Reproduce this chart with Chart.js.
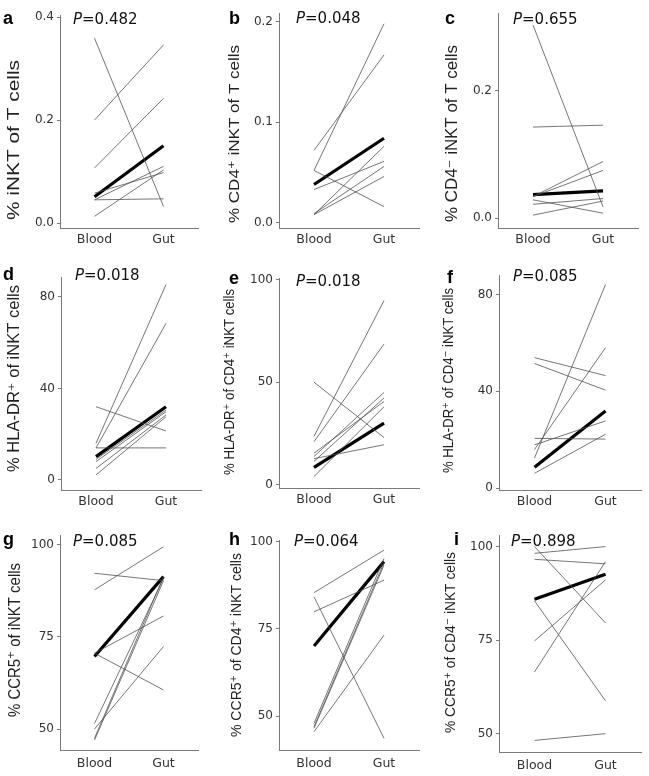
<!DOCTYPE html>
<html>
<head>
<meta charset="utf-8">
<script src="https://cdn.jsdelivr.net/npm/chart.js@4.4.1/dist/chart.umd.min.js"></script>
<style>
body { margin: 0; background: #fff; }
#fig { position: relative; width: 649px; height: 776px; }
canvas { position: absolute; }
</style>
</head>
<body>
<div id="fig"></div>
<script>
// Categorias do eixo x
const categories = ['Blood', 'Gut'];

// Painel a - % iNKT of T cells
const aBlood = [0.359, 0.200, 0.107, 0.045, 0.058, 0.045, 0.013];
const aGut   = [0.032, 0.346, 0.242, 0.110, 0.098, 0.047, 0.103];
const aMean  = [0.051, 0.150];
const aTicks = [0, 0.2, 0.4];
const aTickLabels = ['0.0', '0.2', '0.4'];

// Painel b - % CD4+ iNKT of T cells
const bBlood = [0.072, 0.052, 0.052, 0.033, 0.008, 0.009, 0.008];
const bGut   = [0.167, 0.198, 0.016, 0.061, 0.076, 0.056, 0.046];
const bMean  = [0.038, 0.084];
const bTicks = [0, 0.1, 0.2];
const bTickLabels = ['0.0', '0.1', '0.2'];

// Painel c - % CD4- iNKT of T cells
const cBlood = [0.303, 0.143, 0.034, 0.034, 0.029, 0.022, 0.005];
const cGut   = [0.018, 0.146, 0.075, 0.089, 0.008, 0.031, 0.027];
const cMean  = [0.037, 0.043];
const cTicks = [0, 0.2];
const cTickLabels = ['0.0', '0.2'];

// Painel d - % HLA-DR+ of iNKT cells
const dBlood = [16, 14, 32, 14, 8, 5, 2.2, 9];
const dGut   = [85.4, 68.4, 21.4, 14, 29.8, 28.4, 27.6, 30.5];
const dMean  = [10.2, 32];
const dTicks = [0, 40, 80];
const dTickLabels = ['0', '40', '80'];

// Painel e - % HLA-DR+ of CD4+ iNKT cells
const eBlood = [23.6, 21, 50, 15.4, 13.8, 11.4, 12.7, 4];
const eGut   = [89.8, 68.6, 23, 40.6, 45, 42.3, 19.5, 38];
const eMean  = [8.5, 30];
const eTicks = [0, 50, 100];
const eTickLabels = ['0', '50', '100'];

// Painel f - % HLA-DR+ of CD4- iNKT cells
const fBlood = [12.5, 16, 53.9, 51.5, 20.6, 17.9, 6.2];
const fGut   = [84.1, 58, 46.5, 40.5, 20.3, 27.8, 22.3];
const fMean  = [8.7, 31.9];
const fTicks = [0, 40, 80];
const fTickLabels = ['0', '40', '80'];

// Painel g - % CCR5+ of iNKT cells
const gBlood = [87.8, 92.3, 70.6, 70.6, 51.5, 47.5, 47, 50];
const gGut   = [99.5, 90.3, 80.7, 60.6, 90.9, 91.4, 90.3, 72.4];
const gMean  = [69.7, 91.4];
const gTicks = [50, 75, 100];
const gTickLabels = ['50', '75', '100'];

// Painel h - % CCR5+ of CD4+ iNKT cells
const hBlood = [85.4, 84.2, 79.9, 47.9, 46.9, 46.5, 45.5];
const hGut   = [97.6, 43.6, 89, 95.2, 94, 93.3, 73.2];
const hMean  = [70.1, 94.3];
const hTicks = [50, 75, 100];
const hTickLabels = ['50', '75', '100'];

// Painel i - % CCR5+ of CD4- iNKT cells
const iBlood = [98.2, 96.6, 100, 85.5, 74.8, 66.5, 48.2];
const iGut   = [100, 95.4, 79.6, 58.8, 91.1, 96, 50];
const iMean  = [85.9, 92.6];
const iTicks = [50, 75, 100];
const iTickLabels = ['50', '75', '100'];

const letters = ['a', 'b', 'c', 'd', 'e', 'f', 'g', 'h', 'i'];
const pValues = ['0.482', '0.048', '0.655', '0.018', '0.018', '0.085', '0.085', '0.064', '0.898'];
const yTitles = [
    '% iNKT of T cells',
    '% CD4\u207A iNKT of T cells',
    '% CD4\u207B iNKT of T cells',
    '% HLA-DR\u207A of iNKT cells',
    '% HLA-DR\u207A of CD4\u207A iNKT cells',
    '% HLA-DR\u207A of CD4\u207B iNKT cells',
    '% CCR5\u207A of iNKT cells',
    '% CCR5\u207A of CD4\u207A iNKT cells',
    '% CCR5\u207A of CD4\u207B iNKT cells'
];

const series = [
    [aBlood, aGut, aMean, aTicks, aTickLabels],
    [bBlood, bGut, bMean, bTicks, bTickLabels],
    [cBlood, cGut, cMean, cTicks, cTickLabels],
    [dBlood, dGut, dMean, dTicks, dTickLabels],
    [eBlood, eGut, eMean, eTicks, eTickLabels],
    [fBlood, fGut, fMean, fTicks, fTickLabels],
    [gBlood, gGut, gMean, gTicks, gTickLabels],
    [hBlood, hGut, hMean, hTicks, hTickLabels],
    [iBlood, iGut, iMean, iTicks, iTickLabels]
];

// Layout de cada painel (coordenadas locais do canvas)
const layouts = [
    { left: 60, right: 198, top: 15, bottom: 228, min: -0.0097, max: 0.404, tX: 15, tTop: 60, tBot: 220, tS: 16, lX: 3, lY: 24, pX: 73, pY: 24 },
    { left: 63, right: 203, top: 13, bottom: 228, min: -0.0053, max: 0.2087, tX: 19, tTop: 45, tBot: 223, tS: 15, lX: 13, lY: 24, pX: 80, pY: 23 },
    { left: 66, right: 206, top: 13, bottom: 228, min: -0.0152, max: 0.3218, tX: 21, tTop: 45, tBot: 222, tS: 16, lX: 13, lY: 24, pX: 81, pY: 24 },
    { left: 61, right: 201, top: 22, bottom: 235, min: -4.4, max: 88.7, tX: 15, tTop: 30, tBot: 217, tS: 16, lX: 3, lY: 25, pX: 75, pY: 25 },
    { left: 63, right: 203, top: 23, bottom: 233, min: -1.6, max: 100.8, tX: 14, tTop: 34, tBot: 220, tS: 15, lX: 13, lY: 29, pX: 80, pY: 31 },
    { left: 67, right: 209, top: 20, bottom: 235, min: -0.7, max: 88, tX: 17, tTop: 33, tBot: 218, tS: 15, lX: 15, lY: 28, pX: 81, pY: 26 },
    { left: 60, right: 198, top: 25, bottom: 240, min: 44.3, max: 102.7, tX: 15, tTop: 53, tBot: 207, tS: 17, lX: 3, lY: 35, pX: 73, pY: 36 },
    { left: 63, right: 203, top: 30, bottom: 240, min: 40.25, max: 100.5, tX: 21, tTop: 43, tBot: 227, tS: 15, lX: 13, lY: 35, pX: 78, pY: 36 },
    { left: 67, right: 209, top: 25, bottom: 242, min: 45.1, max: 103.1, tX: 19, tTop: 42, tBot: 223, tS: 15, lX: 22, lY: 35, pX: 79, pY: 36 }
];

const Y_W = 40;
const X_H = 20;
const axisColor = '#7a7a7a';
const titleFont = '"Liberation Sans", Arial, "DejaVu Sans", sans-serif';
const pFont = '"DejaVu Sans", Verdana, sans-serif';

// Plugin para letra do painel, valor P e titulo do eixo y
const panelText = {
    id: 'panelText',
    afterDraw(chart, args, opts) {
        const ctx = chart.ctx;
        ctx.save();
        ctx.textAlign = 'left';
        ctx.textBaseline = 'alphabetic';
        ctx.fillStyle = '#000';
        ctx.font = 'bold 18px ' + titleFont;
        ctx.fillText(opts.letter, opts.lX, opts.lY);

        ctx.fillStyle = '#111';
        ctx.font = 'oblique 15px ' + pFont;
        ctx.fillText('P', opts.pX, opts.pY);
        const pw = ctx.measureText('P').width;
        ctx.font = '15px ' + pFont;
        ctx.fillText('=' + opts.p, opts.pX + pw, opts.pY);

        // titulo do eixo y, comprimido para caber no espaco
        ctx.font = opts.tS + 'px ' + titleFont;
        const span = opts.tBot - opts.tTop;
        const sx = span / ctx.measureText(opts.title).width;
        ctx.fillStyle = '#222';
        ctx.translate(opts.tX, opts.tBot);
        ctx.rotate(-Math.PI / 2);
        ctx.scale(sx, 1);
        ctx.textBaseline = 'middle';
        ctx.fillText(opts.title, 0, 0);
        ctx.restore();
    }
};

const fig = document.getElementById('fig');
const colLeft = [0, 216, 432];
const colWidth = [216, 216, 217];
const rowTop = [0, 255, 510];
const rowHeight = [255, 255, 266];

series.forEach(function(s, idx) {
    const [blood, gut, mean, tickVals, tickLabels] = s;
    const L = layouts[idx];
    const col = idx % 3;
    const row = Math.floor(idx / 3);
    const W = colWidth[col];
    const H = rowHeight[row];

    const canvas = document.createElement('canvas');
    canvas.width = W;
    canvas.height = H;
    canvas.style.left = colLeft[col] + 'px';
    canvas.style.top = rowTop[row] + 'px';
    canvas.style.width = W + 'px';
    canvas.style.height = H + 'px';
    fig.appendChild(canvas);

    const datasets = blood.map(function(v, k) {
        return {
            data: [v, gut[k]],
            borderColor: 'rgba(80,80,80,0.78)',
            borderWidth: 1
        };
    });
    datasets.push({
        data: mean,
        borderColor: '#000',
        borderWidth: 3.2
    });

    new Chart(canvas, {
        type: 'line',
        data: { labels: categories, datasets: datasets },
        options: {
            responsive: false,
            animation: false,
            devicePixelRatio: 1,
            layout: {
                padding: {
                    left: L.left - Y_W,
                    right: W - L.right,
                    top: L.top,
                    bottom: H - L.bottom - X_H
                }
            },
            elements: {
                point: { radius: 0 },
                line: { tension: 0, fill: false }
            },
            plugins: {
                legend: { display: false },
                tooltip: { enabled: false },
                panelText: {
                    letter: letters[idx],
                    p: pValues[idx],
                    title: yTitles[idx],
                    tX: L.tX, tTop: L.tTop, tBot: L.tBot, tS: L.tS,
                    lX: L.lX, lY: L.lY, pX: L.pX, pY: L.pY
                }
            },
            scales: {
                x: {
                    offset: true,
                    grid: { drawOnChartArea: false, drawTicks: false },
                    border: { color: axisColor, width: 1 },
                    ticks: {
                        color: '#333',
                        padding: row === 2 ? 6 : 4,
                        font: { family: 'DejaVu Sans', size: 12.5 }
                    },
                    afterFit: function(scale) { scale.height = X_H; }
                },
                y: {
                    min: L.min,
                    max: L.max,
                    grid: { drawOnChartArea: false, tickLength: 3, color: axisColor },
                    border: { color: axisColor, width: 1 },
                    ticks: {
                        color: '#333',
                        padding: 3,
                        font: { family: 'DejaVu Sans', size: 12 },
                        callback: function(v, i) { return tickLabels[i]; }
                    },
                    afterBuildTicks: function(scale) {
                        scale.ticks = tickVals.map(function(v) { return { value: v }; });
                    },
                    afterFit: function(scale) { scale.width = Y_W; }
                }
            }
        },
        plugins: [panelText]
    });
});
</script>
</body>
</html>
